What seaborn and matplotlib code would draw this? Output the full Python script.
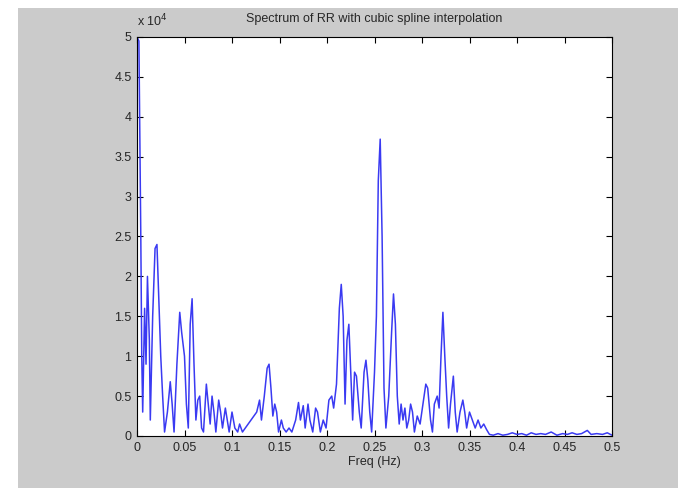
import numpy as np
import pandas as pd
import matplotlib
matplotlib.use("Agg")
import matplotlib.pyplot as plt
from matplotlib.patches import Rectangle
import seaborn as sns

# spectrum (frequency in Hz, power in units of 1e4)
freq = [0.000, 0.002, 0.004, 0.005, 0.006, 0.008, 0.0095, 0.011, 0.013, 0.014,
        0.0165, 0.019, 0.021, 0.023, 0.025, 0.027, 0.029, 0.032, 0.035, 0.037,
        0.039, 0.042, 0.045, 0.047, 0.050, 0.052, 0.054, 0.056, 0.058, 0.060,
        0.062, 0.064, 0.066, 0.068, 0.070, 0.073, 0.075, 0.077, 0.079, 0.081,
        0.083, 0.086, 0.088, 0.090, 0.093, 0.095, 0.097, 0.100, 0.103, 0.106,
        0.108, 0.111, 0.114, 0.117, 0.120, 0.123, 0.126, 0.129, 0.131, 0.134,
        0.137, 0.139, 0.141, 0.143, 0.145, 0.147, 0.149, 0.152, 0.154, 0.157,
        0.160, 0.163, 0.167, 0.170, 0.172, 0.175, 0.177, 0.180, 0.182, 0.185,
        0.188, 0.190, 0.193, 0.196, 0.199, 0.202, 0.205, 0.207, 0.210, 0.213,
        0.215, 0.217, 0.219, 0.221, 0.223, 0.225, 0.227, 0.229, 0.231, 0.234,
        0.236, 0.239, 0.241, 0.243, 0.245, 0.247, 0.250, 0.252, 0.254, 0.256,
        0.258, 0.260, 0.262, 0.265, 0.268, 0.270, 0.272, 0.274, 0.276, 0.278,
        0.280, 0.282, 0.284, 0.286, 0.288, 0.290, 0.292, 0.295, 0.298, 0.301,
        0.304, 0.306, 0.309, 0.311, 0.313, 0.316, 0.318, 0.320, 0.322, 0.324,
        0.326, 0.328, 0.330, 0.333, 0.335, 0.337, 0.340, 0.343, 0.345, 0.347,
        0.350, 0.353, 0.356, 0.359, 0.362, 0.365, 0.368, 0.371, 0.375, 0.380,
        0.385, 0.390, 0.395, 0.400, 0.405, 0.410, 0.415, 0.420, 0.425, 0.430,
        0.436, 0.442, 0.448, 0.453, 0.458, 0.463, 0.468, 0.474, 0.478, 0.484,
        0.490, 0.495, 0.500]
power = [5.00, 4.95, 2.50, 1.00, 0.30, 1.60, 0.90, 2.00, 1.20, 0.20,
         1.50, 2.35, 2.40, 1.70, 1.00, 0.50, 0.05, 0.30, 0.68, 0.40,
         0.05, 0.90, 1.55, 1.30, 1.00, 0.40, 0.10, 1.40, 1.72, 0.90,
         0.20, 0.45, 0.50, 0.10, 0.05, 0.65, 0.40, 0.15, 0.50, 0.30,
         0.05, 0.45, 0.30, 0.10, 0.35, 0.20, 0.05, 0.30, 0.10, 0.05,
         0.15, 0.05, 0.10, 0.15, 0.20, 0.25, 0.30, 0.45, 0.20, 0.50,
         0.85, 0.90, 0.60, 0.25, 0.40, 0.30, 0.05, 0.20, 0.10, 0.05,
         0.10, 0.05, 0.20, 0.42, 0.20, 0.38, 0.10, 0.40, 0.20, 0.05,
         0.35, 0.30, 0.05, 0.20, 0.10, 0.45, 0.50, 0.35, 0.65, 1.60,
         1.90, 1.50, 0.40, 1.20, 1.40, 0.80, 0.20, 0.80, 0.75, 0.30,
         0.10, 0.80, 0.95, 0.70, 0.30, 0.05, 0.80, 1.50, 3.20, 3.72,
         2.50, 0.60, 0.10, 0.50, 1.30, 1.78, 1.40, 0.50, 0.15, 0.40,
         0.20, 0.35, 0.10, 0.20, 0.40, 0.30, 0.05, 0.25, 0.15, 0.40,
         0.65, 0.60, 0.20, 0.05, 0.40, 0.50, 0.35, 1.00, 1.55, 1.00,
         0.50, 0.10, 0.40, 0.75, 0.30, 0.05, 0.30, 0.45, 0.30, 0.10,
         0.30, 0.20, 0.10, 0.20, 0.10, 0.15, 0.08, 0.02, 0.01, 0.03,
         0.01, 0.02, 0.04, 0.02, 0.03, 0.01, 0.04, 0.02, 0.03, 0.02,
         0.05, 0.01, 0.03, 0.02, 0.04, 0.02, 0.03, 0.07, 0.02, 0.03,
         0.02, 0.04, 0.01]

xticks = [0, 0.05, 0.1, 0.15, 0.2, 0.25, 0.3, 0.35, 0.4, 0.45, 0.5]
xticklabels = ["0", "0.05", "0.1", "0.15", "0.2", "0.25", "0.3", "0.35", "0.4", "0.45", "0.5"]
yticks = [0, 0.5, 1, 1.5, 2, 2.5, 3, 3.5, 4, 4.5, 5]
yticklabels = ["0", "0.5", "1", "1.5", "2", "2.5", "3", "3.5", "4", "4.5", "5"]

df = pd.DataFrame({"freq": freq, "power": power})

sns.set_style("ticks")
plt.rcParams["font.family"] = ["Liberation Sans", "DejaVu Sans"]
plt.rcParams["xtick.direction"] = "in"
plt.rcParams["ytick.direction"] = "in"

gray = "#cbcbcb"
fig = plt.figure(figsize=(6.78, 4.91), dpi=100, facecolor=gray)
# white margins like the scanned screenshot
fig.patches.append(Rectangle((0, 0), 18 / 678, 1, transform=fig.transFigure,
                             facecolor="white", edgecolor="none", zorder=0))
fig.patches.append(Rectangle((0, 1 - 8 / 491), 1, 8 / 491, transform=fig.transFigure,
                             facecolor="white", edgecolor="none", zorder=0))
fig.patches.append(Rectangle((0, 0), 1, 3 / 491, transform=fig.transFigure,
                             facecolor="white", edgecolor="none", zorder=0))

ax = fig.add_axes([137 / 678, 1 - 436 / 491, 475 / 678, 399 / 491])
ax.set_facecolor("white")
sns.lineplot(data=df, x="freq", y="power", ax=ax, color="#3a3af2", lw=1.1,
             estimator=None, sort=False)

ax.set_xlim(0, 0.5)
ax.set_ylim(0, 5)
ax.set_xticks(xticks)
ax.set_xticklabels(xticklabels, fontsize=9)
ax.set_yticks(yticks)
ax.set_yticklabels(yticklabels, fontsize=9)
ax.tick_params(top=True, right=True, length=4, width=0.8, color="black", pad=4)
for s in ax.spines.values():
    s.set_visible(True)
    s.set_linewidth(0.8)
    s.set_color("black")

ax.set_xlabel("Freq (Hz)", fontsize=9, labelpad=2)
ax.set_ylabel("")
ax.set_title("Spectrum of RR with cubic spline interpolation", fontsize=9, pad=11)
ax.text(0.0, 1.02, r"x 10$^{4}$", transform=ax.transAxes, fontsize=9,
        ha="left", va="bottom")

fig.savefig("out.png", dpi=100, facecolor=gray)
